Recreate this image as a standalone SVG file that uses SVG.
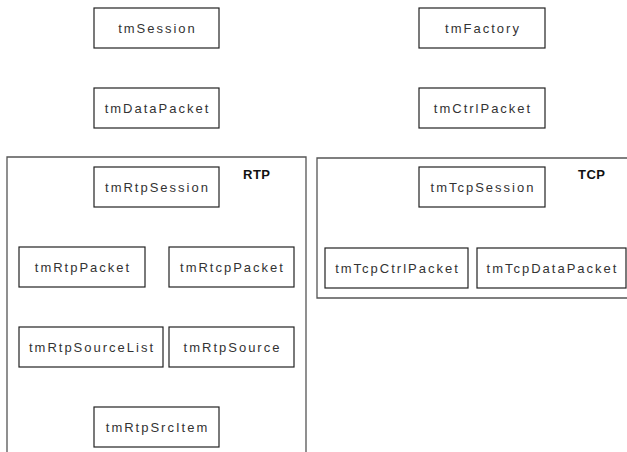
<svg xmlns="http://www.w3.org/2000/svg" width="627" height="452" viewBox="0 0 627 452">
  <style>
    .frame { fill: none; stroke: #555; stroke-width: 1.3; }
    .box { fill: #fff; stroke: #222; stroke-width: 1.2; }
    .lbl { font-family: "Liberation Sans", Arial, sans-serif; font-size: 13px; fill: #333; letter-spacing: 2px; text-anchor: middle; }
    .grp { font-family: "Liberation Sans", Arial, sans-serif; font-size: 13px; font-weight: bold; fill: #111; letter-spacing: 0.5px; }
  </style>
  <rect width="627" height="452" fill="#fff"/>

  <!-- package frames -->
  <g id="pkg-rtp">
    <path class="frame" d="M7,453 V157 H306 V453"/>
    <text class="grp" x="243" y="179">RTP</text>
  </g>
  <g id="pkg-tcp">
    <path class="frame" d="M628,158 H317 V298 H628"/>
    <text class="grp" x="578" y="179">TCP</text>
  </g>

  <!-- classes -->
  <g id="tmSession"><rect class="box" x="94" y="8" width="125" height="40"/><text class="lbl" x="157.5" y="32.5">tmSession</text></g>
  <g id="tmDataPacket"><rect class="box" x="94" y="88" width="125" height="40"/><text class="lbl" x="157.5" y="112.5">tmDataPacket</text></g>
  <g id="tmFactory"><rect class="box" x="419" y="8" width="126" height="40"/><text class="lbl" x="483" y="32.5">tmFactory</text></g>
  <g id="tmCtrlPacket"><rect class="box" x="419" y="88" width="126" height="40"/><text class="lbl" x="483" y="112.5">tmCtrlPacket</text></g>

  <g id="tmRtpSession"><rect class="box" x="94" y="167" width="125" height="40"/><text class="lbl" x="157.5" y="191.5">tmRtpSession</text></g>
  <g id="tmRtpPacket"><rect class="box" x="19" y="247" width="126" height="40"/><text class="lbl" x="83" y="271.5">tmRtpPacket</text></g>
  <g id="tmRtcpPacket"><rect class="box" x="169" y="247" width="125" height="40"/><text class="lbl" x="232.5" y="271.5">tmRtcpPacket</text></g>
  <g id="tmRtpSourceList"><rect class="box" x="19" y="327" width="144" height="40"/><text class="lbl" x="92" y="351.5">tmRtpSourceList</text></g>
  <g id="tmRtpSource"><rect class="box" x="169" y="327" width="125" height="40"/><text class="lbl" x="232.5" y="351.5">tmRtpSource</text></g>
  <g id="tmRtpSrcItem"><rect class="box" x="94" y="407" width="125" height="40"/><text class="lbl" x="157.5" y="431.5">tmRtpSrcItem</text></g>

  <g id="tmTcpSession"><rect class="box" x="419" y="167" width="126" height="40"/><text class="lbl" x="483" y="191.5">tmTcpSession</text></g>
  <g id="tmTcpCtrlPacket"><rect class="box" x="325" y="248" width="143" height="40"/><text class="lbl" x="397.5" y="272.5">tmTcpCtrlPacket</text></g>
  <g id="tmTcpDataPacket"><rect class="box" x="477" y="248" width="149" height="40"/><text class="lbl" x="552.5" y="272.5">tmTcpDataPacket</text></g>

  <!-- no connectors are drawn between these classes -->
  <g id="connectors"></g>
</svg>
